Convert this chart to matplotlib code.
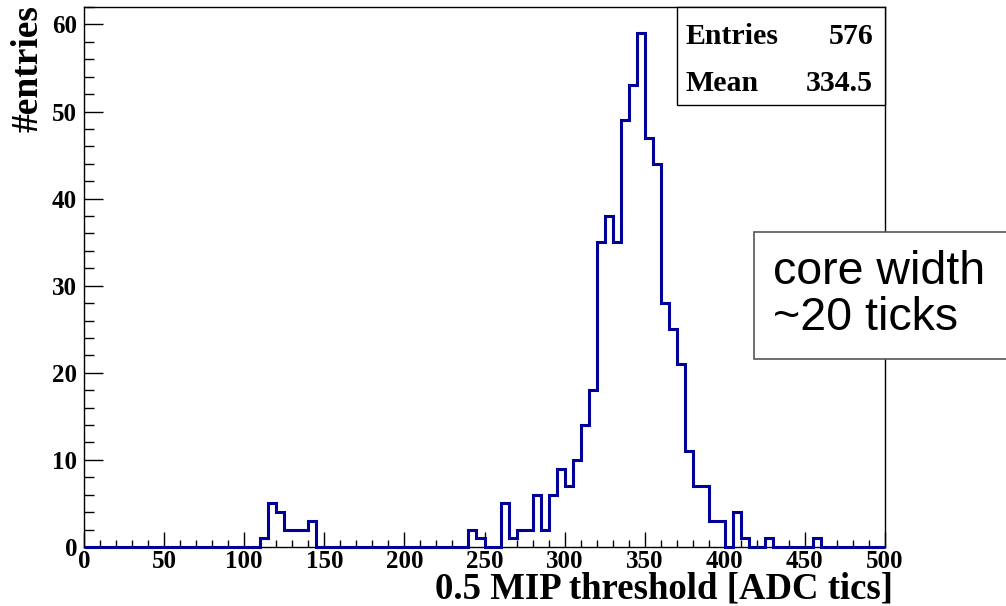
import numpy as np
import matplotlib
matplotlib.use("Agg")
import matplotlib.pyplot as plt
from matplotlib.patches import Rectangle
from matplotlib.ticker import MultipleLocator

# histogram: 5-tick bins from 0 to 500, empty bins left out
bin_lo = [110, 115, 120, 125, 130, 135, 140,
          240, 245, 260, 265, 270, 275, 280, 285, 290, 295, 300, 305, 310, 315,
          320, 325, 330, 335, 340, 345, 350, 355, 360,
          365, 370, 375, 380, 385, 390, 395, 405, 410, 425, 455]
counts = [1, 5, 4, 2, 2, 2, 3,
          2, 1, 5, 1, 2, 2, 6, 2, 6, 9, 7, 10, 14, 18,
          35, 38, 35, 49, 53, 59, 47, 44, 28,
          25, 21, 11, 7, 7, 3, 3, 4, 1, 1, 1]
n_entries = "576"
mean_txt = "334.5"

edges = np.arange(0, 505, 5)
vals = np.zeros(len(edges) - 1)
for lo, c in zip(bin_lo, counts):
    vals[lo // 5] = c

serif = "Liberation Serif"
sans = "Liberation Sans"

fig = plt.figure(figsize=(10.06, 6.06), dpi=100)
ax = fig.add_axes([84/1006, 1-547/606, (885-84)/1006, (547-7)/606])

ax.stairs(vals, edges, color="#000099", lw=2.2, clip_on=False, zorder=3)

ax.set_xlim(0, 500)
ax.set_ylim(0, 62)
ax.xaxis.set_major_locator(MultipleLocator(50))
ax.xaxis.set_minor_locator(MultipleLocator(10))
ax.yaxis.set_major_locator(MultipleLocator(10))
ax.yaxis.set_minor_locator(MultipleLocator(2))
ax.tick_params(which="both", direction="in", top=False, right=False, width=1.0)
ax.tick_params(axis="x", which="major", length=11, pad=2)
ax.tick_params(axis="x", which="minor", length=5)
ax.tick_params(axis="y", which="major", length=14, pad=5)
ax.tick_params(axis="y", which="minor", length=7)
for lab in ax.get_xticklabels() + ax.get_yticklabels():
    lab.set_fontfamily(serif)
    lab.set_fontweight("bold")
    lab.set_fontsize(18)
for s in ax.spines.values():
    s.set_linewidth(1.0)

fig.text(893/1006, 7.5/606, "0.5 MIP threshold [ADC tics]", ha="right", va="baseline",
         fontfamily=serif, fontweight="bold", fontsize=26.5)
fig.text(28/1006, 1-5/606, "#entries", rotation=90, ha="center", va="top",
         fontfamily=serif, fontweight="bold", fontsize=27)

# stats box
fig.patches.append(Rectangle((677/1006, 1-105/606), (885-677)/1006, (105-7)/606,
                             transform=fig.transFigure, facecolor="white",
                             edgecolor="black", lw=1.0, zorder=5))
fig.text(686/1006, 1-44/606, "Entries", ha="left", va="baseline", fontfamily=serif,
         fontweight="bold", fontsize=21.5, zorder=6)
fig.text(873/1006, 1-44/606, n_entries, ha="right", va="baseline", fontfamily=serif,
         fontweight="bold", fontsize=21.5, zorder=6)
fig.text(686/1006, 1-91/606, "Mean", ha="left", va="baseline", fontfamily=serif,
         fontweight="bold", fontsize=21.5, zorder=6)
fig.text(873/1006, 1-91/606, mean_txt, ha="right", va="baseline", fontfamily=serif,
         fontweight="bold", fontsize=21.5, zorder=6)

# annotation box
fig.patches.append(Rectangle((754/1006, 1-359/606), 300/1006, (359-232)/606,
                             transform=fig.transFigure, facecolor="white",
                             edgecolor="#555555", lw=1.2, zorder=5))
fig.text(773/1006, 1-284/606, "core width", ha="left", va="baseline",
         fontfamily=sans, fontsize=33.5, zorder=6)
fig.text(773/1006, 1-330/606, "~20 ticks", ha="left", va="baseline",
         fontfamily=sans, fontsize=33.5, zorder=6)

fig.savefig("out.png", dpi=100)
